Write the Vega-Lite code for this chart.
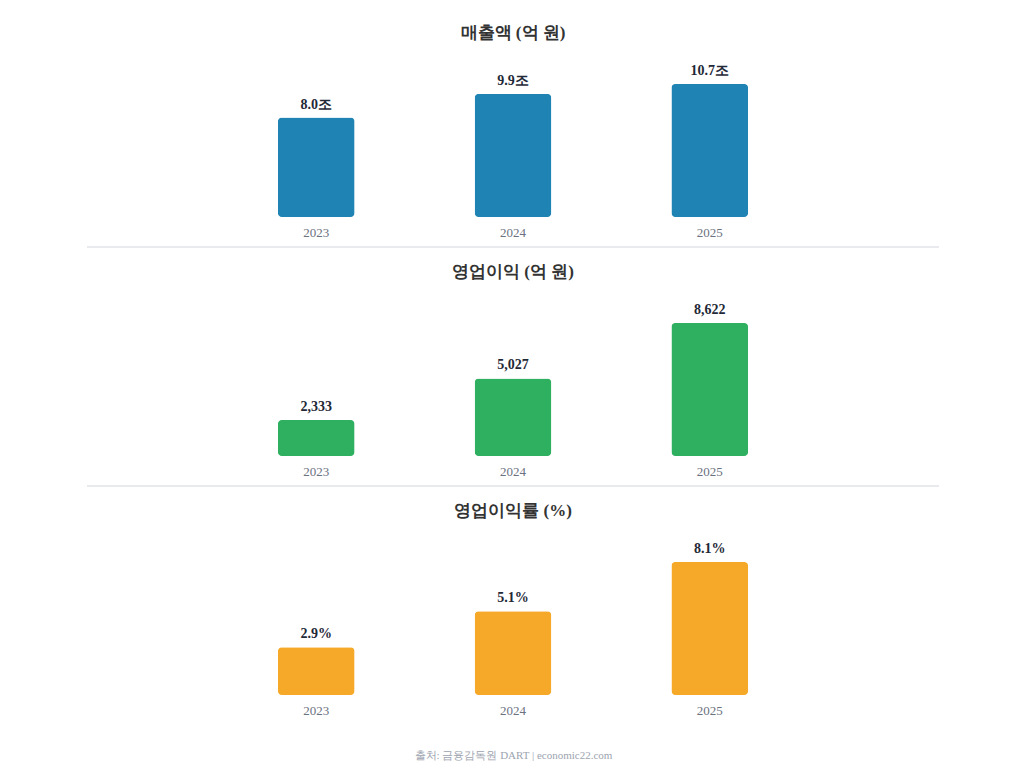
{
  "$schema": "https://vega.github.io/schema/vega-lite/v6.json",
  "background": "white",
  "padding": {"top": 23, "left": 86, "right": 86, "bottom": 5},
  "config": {
    "font": "Liberation Serif",
    "view": {"stroke": null},
    "concat": {"spacing": 14},
    "title": {"fontSize": 17, "fontWeight": "bold", "color": "#333333", "offset": 22, "font": "Liberation Serif"},
    "axis": {"labelFont": "Liberation Serif", "titleFont": "Liberation Serif"}
  },
  "vconcat": [
    {
      "width": 852, "height": 153,
      "title": "매출액 (억 원)",
      "data": {"values": [
        {"year": "2023", "value": 8.0, "label": "8.0조"},
        {"year": "2024", "value": 9.9, "label": "9.9조"},
        {"year": "2025", "value": 10.7, "label": "10.7조"}
      ]},
      "encoding": {
        "x": {"field": "year", "type": "ordinal", "scale": {"paddingInner": 0.61, "paddingOuter": 0.97},
          "axis": {"title": null, "domain": false, "ticks": false, "labelAngle": 0, "labelPadding": 9, "labelFontSize": 13, "labelColor": "#6b7280"}},
        "y": {"field": "value", "type": "quantitative", "scale": {"domain": [0, 12.305]}, "axis": null}
      },
      "layer": [
        {"mark": {"type": "bar", "color": "#1f83b4", "cornerRadius": 4}},
        {"mark": {"type": "text", "baseline": "bottom", "dy": -6, "fontSize": 14, "fontWeight": "bold", "color": "#1f2937"},
         "encoding": {"text": {"field": "label"}}},
        {"mark": {"type": "rule", "yOffset": 30, "color": "#e5e7eb", "strokeWidth": 1, "clip": false},
         "encoding": {"y": {"datum": 0}, "x": null}}
      ]
    },
    {
      "width": 852, "height": 153,
      "title": "영업이익 (억 원)",
      "data": {"values": [
        {"year": "2023", "value": 2333, "label": "2,333"},
        {"year": "2024", "value": 5027, "label": "5,027"},
        {"year": "2025", "value": 8622, "label": "8,622"}
      ]},
      "encoding": {
        "x": {"field": "year", "type": "ordinal", "scale": {"paddingInner": 0.61, "paddingOuter": 0.97},
          "axis": {"title": null, "domain": false, "ticks": false, "labelAngle": 0, "labelPadding": 9, "labelFontSize": 13, "labelColor": "#6b7280"}},
        "y": {"field": "value", "type": "quantitative", "scale": {"domain": [0, 9915]}, "axis": null}
      },
      "layer": [
        {"mark": {"type": "bar", "color": "#2fb060", "cornerRadius": 4}},
        {"mark": {"type": "text", "baseline": "bottom", "dy": -6, "fontSize": 14, "fontWeight": "bold", "color": "#1f2937"},
         "encoding": {"text": {"field": "label"}}},
        {"mark": {"type": "rule", "yOffset": 30, "color": "#e5e7eb", "strokeWidth": 1, "clip": false},
         "encoding": {"y": {"datum": 0}, "x": null}}
      ]
    },
    {
      "width": 852, "height": 153,
      "title": "영업이익률 (%)",
      "data": {"values": [
        {"year": "2023", "value": 2.9, "label": "2.9%"},
        {"year": "2024", "value": 5.1, "label": "5.1%"},
        {"year": "2025", "value": 8.1, "label": "8.1%"}
      ]},
      "encoding": {
        "x": {"field": "year", "type": "ordinal", "scale": {"paddingInner": 0.61, "paddingOuter": 0.97},
          "axis": {"title": "출처: 금융감독원 DART | economic22.com", "titleFontSize": 11, "titleFontWeight": "normal", "titleColor": "#9ca3af", "titlePadding": 32,
            "domain": false, "ticks": false, "labelAngle": 0, "labelPadding": 9, "labelFontSize": 13, "labelColor": "#6b7280"}},
        "y": {"field": "value", "type": "quantitative", "scale": {"domain": [0, 9.315]}, "axis": null}
      },
      "layer": [
        {"mark": {"type": "bar", "color": "#f6a828", "cornerRadius": 4}},
        {"mark": {"type": "text", "baseline": "bottom", "dy": -6, "fontSize": 14, "fontWeight": "bold", "color": "#1f2937"},
         "encoding": {"text": {"field": "label"}}}
      ]
    }
  ]
}
